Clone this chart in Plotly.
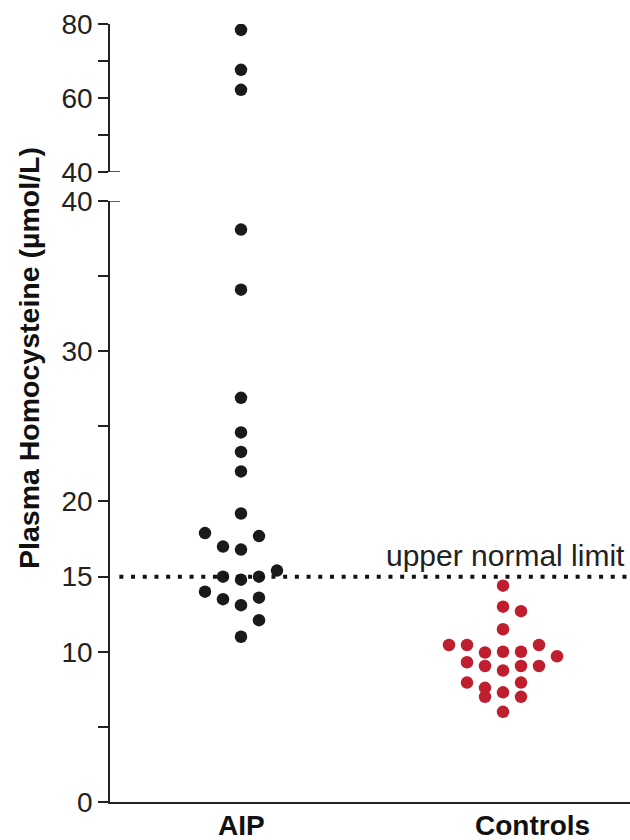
import plotly.graph_objects as go

# ---- data ----
categories = ["AIP", "Controls"]

aip_values = [19.2, 17.9, 17.7, 17.0, 16.8, 15.4, 15.0, 14.8, 15.0, 14.0, 13.5, 13.1,
              13.6, 12.1, 11.0, 22.0, 23.3, 24.6, 26.9, 34.1, 38.1, 62.2, 67.6, 78.4]
aip_cols = [0, -2, 1, -1, 0, 2, -1, 0, 1, -2, -1, 0,
            1, 1, 0, 0, 0, 0, 0, 0, 0, 0, 0, 0]

ctrl_values = [14.4, 13.0, 12.7, 11.5, 10.45, 10.45, 10.45, 9.95, 10.0, 10.0, 9.7, 9.3,
               9.05, 8.75, 9.05, 9.05, 7.95, 7.6, 7.0, 7.3, 7.95, 7.0, 6.0]
ctrl_cols = [0, 0, 1, 0, -3, -2, 2, -1, 0, 1, 3, -2,
             -1, 0, 1, 2, -2, -1, -1, 0, 1, 1, 0]

upper_normal_limit = 15
limit_label = "upper normal limit"
y_title = "Plasma Homocysteine (µmol/L)"

lower_ticks = [0, 5, 10, 15, 20, 25, 30, 35, 40]
lower_ticktext = ["0", "", "10", "15", "20", "", "30", "", "40"]
upper_ticks = [40, 50, 60, 70, 80]
upper_ticktext = ["40", "", "60", "", "80"]

# ---- styling ----
FONT = "Liberation Sans, Arial, sans-serif"
BLACK = "#1a1a1a"
RED = "#BE1E2D"
AXIS = "#222222"
COL_STEP = 0.0687
BREAK = 40

fig = go.Figure()


def add_group(values, cols, pos, color):
    lo_x, lo_y, hi_x, hi_y = [], [], [], []
    for v, c in zip(values, cols):
        x = pos + c * COL_STEP
        if v > BREAK:
            hi_x.append(x); hi_y.append(v)
        else:
            lo_x.append(x); lo_y.append(v)
    marker = dict(size=12.5, color=color, line=dict(width=0))
    fig.add_trace(go.Scatter(x=lo_x, y=lo_y, mode="markers", marker=marker,
                             xaxis="x", yaxis="y", showlegend=False, hoverinfo="y"))
    if hi_y:
        fig.add_trace(go.Scatter(x=hi_x, y=hi_y, mode="markers", marker=marker,
                                 xaxis="x", yaxis="y2", showlegend=False, hoverinfo="y"))


add_group(aip_values, aip_cols, 1, BLACK)
add_group(ctrl_values, ctrl_cols, 2, RED)

common_y = dict(showgrid=False, zeroline=False, showline=True, linecolor=AXIS, linewidth=1.5,
                ticks="outside", ticklen=10, tickwidth=1.5, tickcolor=AXIS,
                tickfont=dict(family=FONT, size=28, color="#222222"), anchor="x")

fig.update_layout(
    width=630, height=840,
    margin=dict(l=110, r=0, t=24, b=38),
    paper_bgcolor="white", plot_bgcolor="white",
    xaxis=dict(range=[0.5, 2.4847], showgrid=False, zeroline=False, showline=True,
               linecolor=AXIS, linewidth=1.5, showticklabels=False, ticks="", anchor="y"),
    yaxis=dict(domain=[0, 0.7725], range=[0, BREAK], tickmode="array",
               tickvals=lower_ticks, ticktext=lower_ticktext, **common_y),
    yaxis2=dict(domain=[0.8098, 1], range=[BREAK, 80], tickmode="array",
                tickvals=upper_ticks, ticktext=upper_ticktext, **common_y),
    showlegend=False,
)

# crossbar at the axis break (inner half of the 40 ticks)
for yref in ["y", "y2"]:
    fig.add_shape(type="line", xref="paper", yref=yref, x0=0, x1=10 / 520,
                  y0=BREAK, y1=BREAK, line=dict(color=AXIS, width=1.5), layer="above")

# dotted upper-normal-limit line
fig.add_shape(type="line", xref="paper", yref="y", x0=0.018, x1=0.997,
              y0=upper_normal_limit, y1=upper_normal_limit,
              line=dict(color="#111111", width=4, dash="4px,7.7px"), layer="above")

fig.add_annotation(text=limit_label, xref="paper", yref="y", x=0.994, y=upper_normal_limit,
                   xanchor="right", yanchor="bottom", yshift=3, showarrow=False,
                   font=dict(family=FONT, size=30, color="#222222"))

# category labels
for i, (cat, shift) in enumerate(zip(categories, [0, 29])):
    fig.add_annotation(text=f"<b>{cat}</b>", xref="x", yref="paper", x=i + 1, y=0,
                       xanchor="center", yanchor="middle", xshift=shift, yshift=-23,
                       showarrow=False, font=dict(family=FONT, size=28, color="#111111"))

# y-axis title
fig.add_annotation(text=f"<b>{y_title}</b>", xref="paper", yref="paper", x=0, y=0.5707,
                   xanchor="center", yanchor="middle", xshift=-81, textangle=-90,
                   showarrow=False, font=dict(family=FONT, size=28.5, color="#111111"))

fig.write_html("out.html")
